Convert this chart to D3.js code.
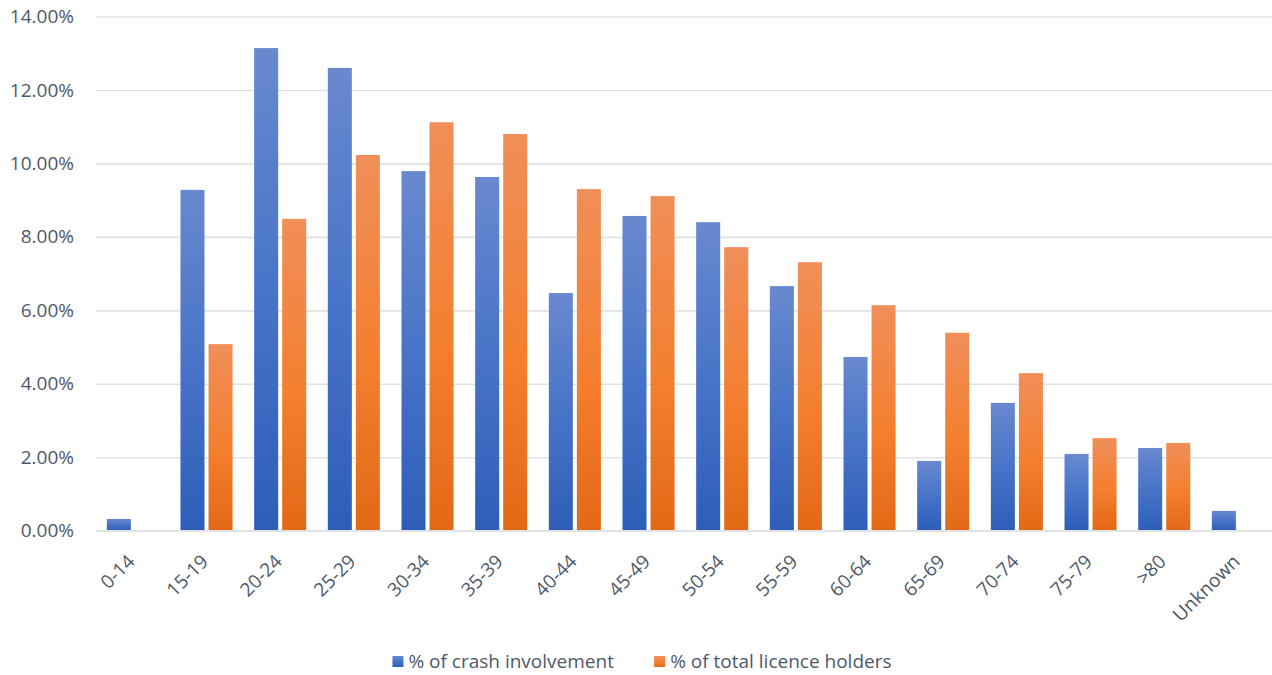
<!DOCTYPE html>
<html>
<head>
<meta charset="utf-8">
<script src="https://cdn.jsdelivr.net/npm/d3@7"></script>
<style>
  html, body { margin: 0; padding: 0; background: #ffffff; }
  svg text { font-family: "Open Sans", "Liberation Sans", sans-serif; fill: #4e5869; }
</style>
</head>
<body>
<svg id="chart" width="1272" height="675"></svg>
<script>
// Age groups along the x axis
const categories = ["0-14", "15-19", "20-24", "25-29", "30-34", "35-39", "40-44", "45-49",
                    "50-54", "55-59", "60-64", "65-69", "70-74", "75-79", ">80", "Unknown"];

// Percentages per age group
const crashInvolvement = [0.32, 9.28, 13.14, 12.60, 9.79, 9.63, 6.47, 8.57,
                          8.40, 6.66, 4.73, 1.90, 3.48, 2.09, 2.25, 0.54];
const licenceHolders   = [null, 5.08, 8.49, 10.23, 11.12, 10.80, 9.30, 9.11,
                          7.72, 7.31, 6.14, 5.39, 4.29, 2.52, 2.39, null];

const seriesNames = ["% of crash involvement", "% of total licence holders"];
const yTicks = [0, 2, 4, 6, 8, 10, 12, 14];

const svg = d3.select("#chart");
const margin = { left: 96, top: 16.5, bottom: 144.3 };
const plotBottom = 675 - margin.bottom;
const step = 73.67;
const plotRight = margin.left + step * categories.length;

const x = d3.scaleBand().domain(categories).range([margin.left, plotRight]).padding(0);
const xInner = d3.scaleBand().domain(seriesNames)
  .range([10.8, x.bandwidth() - 10.8]).paddingInner(1 - 24 / 28);
const y = d3.scaleLinear().domain([0, 14]).range([plotBottom, margin.top]);

// Vertical gradients, light at the top and deeper at the base of each bar
const defs = svg.append("defs");
const gradients = [
  { id: "gBlue",   stops: [["0%", "#6889cf"], ["50%", "#4874c8"], ["100%", "#2e5eb8"]] },
  { id: "gOrange", stops: [["0%", "#f08f59"], ["55%", "#f47f2f"], ["100%", "#e26916"]] }
];
gradients.forEach(g => {
  const lg = defs.append("linearGradient").attr("id", g.id)
    .attr("x1", 0).attr("y1", 0).attr("x2", 0).attr("y2", 1);
  g.stops.forEach(s => lg.append("stop").attr("offset", s[0]).attr("stop-color", s[1]));
});

// Gridlines and y labels
const yAxis = svg.append("g").attr("transform", `translate(${margin.left},0)`)
  .call(d3.axisLeft(y).tickValues(yTicks).tickSize(-(1272 - margin.left))
    .tickFormat(d => d.toFixed(2) + "%").tickPadding(22));
yAxis.select(".domain").remove();
yAxis.selectAll(".tick line").attr("stroke", "#dfe2e7").attr("stroke-width", 1.6);
yAxis.selectAll(".tick text").style("font-size", "19px").attr("fill", "#4e5869")
  .style("font-family", "\"Open Sans\", sans-serif");

// Bars
const data = [crashInvolvement, licenceHolders];
const fills = ["url(#gBlue)", "url(#gOrange)"];
const bars = svg.append("g");
seriesNames.forEach((name, si) => {
  bars.append("g").selectAll("rect")
    .data(categories.map((c, i) => ({ c, v: data[si][i] })).filter(d => d.v != null))
    .join("rect")
    .attr("x", d => x(d.c) + xInner(name))
    .attr("width", xInner.bandwidth())
    .attr("y", d => y(d.v))
    .attr("height", d => plotBottom - y(d.v))
    .attr("fill", fills[si]);
});

// Baseline
svg.append("line").attr("x1", margin.left).attr("x2", 1272)
  .attr("y1", plotBottom).attr("y2", plotBottom)
  .attr("stroke", "#dfe2e7").attr("stroke-width", 1.6);

// Rotated category labels
const xAxis = svg.append("g").attr("transform", `translate(0,${plotBottom})`)
  .call(d3.axisBottom(x).tickSize(0).tickPadding(0));
xAxis.select(".domain").remove();
xAxis.selectAll(".tick text")
  .style("font-size", "19px").attr("fill", "#4e5869")
  .style("font-family", "\"Open Sans\", sans-serif")
  .attr("text-anchor", "end")
  .attr("dy", null)
  .attr("transform", "translate(3,32) rotate(-45)");

// Legend
const legend = svg.append("g").attr("transform", "translate(0,661)");
const items = legend.selectAll("g").data(seriesNames).join("g");
items.append("rect").attr("width", 11).attr("height", 11).attr("y", -5)
  .attr("fill", (d, i) => fills[i]);
items.append("text").attr("x", 16).attr("dy", "0.35em")
  .style("font-size", "19px").text(d => d);
let widths = [];
items.each(function () { widths.push(this.getBBox().width); });
const gap = 40;
const total = widths[0] + gap + widths[1];
let cx = 642 - total / 2;
items.attr("transform", (d, i) => `translate(${i === 0 ? cx : cx + widths[0] + gap},0)`);
</script>
</body>
</html>
